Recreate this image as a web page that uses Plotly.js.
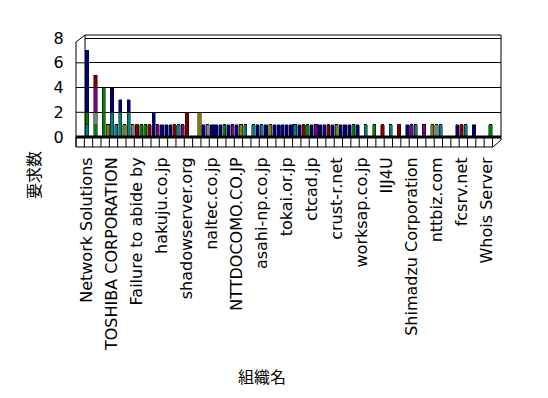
<!DOCTYPE html>
<html><head><meta charset="utf-8">
<script src="https://cdn.plot.ly/plotly-3.0.1.min.js"></script>
<style>html,body{margin:0;padding:0;background:#fff}#c{width:548px;height:398px}</style>
</head><body><div id="c"></div>
<script>
// category index positions that carry a tick label (every 6th organisation)
const labelIndex = [0,6,12,18,24,30,36,42,48,54,60,66,72,78,84,90,96];
const tickLabels = ["Network Solutions","TOSHIBA CORPORATION","Failure to abide by","hakuju.co.jp","shadowserver.org","naltec.co.jp","NTTDOCOMO.CO.JP","asahi-np.co.jp","tokai.or.jp","ctcad.jp","crust-r.net","worksap.co.jp","IIJ4U","Shimadzu Corporation","nttbiz.com","fcsrv.net","Whois Server"];
const seriesNames = ["系列1","系列2","系列3","系列4","系列5","系列6","系列7"];
const seriesColors = ["#008080","#008000","#808000","#808080","#800080","#800000","#000080"];
// values per series, one per organisation (100 organisations)
const teal = [1,0,0,0,0,0,2,1,2,0, 2,0,0,0,0,0,0,0,0,0, 0,0,1,0,0,0,0,0,0,0, 0,0,0,0,0,0,0,0,1,0,
              1,0,1,0,0,0,0,0,0,0, 1,0,0,0,0,0,0,0,0,0, 0,0,0,0,0,0,0,1,0,0, 0,0,0,1,0,0,0,0,0,1,
              0,0,0,0,0,1,0,0,0,0, 0,1,0,0,0,0,0,0,0,0];
const green = [1,0,1,0,4,0,0,0,0,0, 0,0,0,1,1,0,0,0,0,0, 0,0,0,0,0,0,0,0,0,0, 0,0,0,1,0,0,0,0,0,0,
               0,0,0,0,0,0,0,0,0,0, 0,0,0,1,0,0,0,0,0,0, 0,0,0,0,1,0,0,0,0,1, 0,0,0,0,0,0,0,0,0,0,
               0,0,0,0,0,0,0,0,0,0, 0,0,0,0,0,0,0,1,0,0];
const olive = [0,0,0,0,0,1,0,0,0,1, 0,0,0,0,0,0,0,0,0,0, 0,0,0,0,0,0,0,2,0,0, 0,0,0,0,0,0,0,1,0,0,
               0,0,0,0,1,0,0,0,0,0, 0,0,0,0,0,0,0,0,0,0, 1,0,0,0,0,0,0,0,0,0, 0,0,0,0,0,0,0,0,0,0,
               0,0,0,1,0,0,0,0,0,0, 0,0,0,0,0,0,0,0,0,0];
const gray = [0,0,1,0,0,0,0,0,0,0, 0,1,0,0,0,0,0,0,0,0, 0,0,0,0,0,0,0,0,0,1, 0,0,0,0,0,0,0,0,0,0,
              0,0,0,0,0,0,0,0,0,0, 0,0,0,0,0,0,0,0,0,0, 0,0,0,0,0,0,0,0,0,0, 0,0,0,0,0,0,0,0,0,0,
              0,0,0,0,1,0,0,0,0,0, 0,0,0,0,0,0,0,0,0,0];
const purple = [0,0,2,0,0,0,0,0,0,0, 0,0,0,0,0,0,0,1,0,0, 0,0,0,1,0,0,0,0,0,0, 0,0,0,0,0,1,0,0,0,0,
                0,0,0,0,0,0,0,0,0,0, 0,0,0,0,0,1,0,0,0,0, 0,0,0,0,0,0,0,0,0,0, 0,0,0,0,0,0,0,0,1,0,
                0,1,0,0,0,0,0,0,0,0, 0,0,0,0,0,0,0,0,0,0];
const maroon = [0,0,1,0,0,0,0,0,0,0, 0,0,1,0,0,1,0,0,0,0, 0,1,0,0,2,0,0,0,0,0, 0,0,0,0,0,0,0,0,0,0,
                0,0,0,0,0,0,0,0,0,0, 0,0,1,0,0,0,0,0,1,0, 0,0,0,0,0,0,0,0,0,0, 0,1,0,0,0,1,0,0,0,0,
                0,0,0,0,0,0,0,0,0,0, 1,0,0,0,0,0,0,0,0,0];
const navy = [5,0,0,0,0,0,2,0,1,0, 1,0,0,0,0,0,2,0,1,1, 1,0,0,0,0,0,0,0,1,0, 1,1,1,0,1,0,1,0,0,0,
              0,1,0,1,0,1,1,1,1,1, 0,1,0,0,1,0,1,1,0,1, 0,1,1,1,0,1,0,0,0,0, 0,0,0,0,0,0,0,1,0,0,
              0,0,0,0,0,0,0,0,0,1, 0,0,0,1,0,0,0,0,0,0];
const seriesValues = [teal,green,olive,gray,purple,maroon,navy];

const N = teal.length;
const xs = Array.from({length:N},(_,i)=>i);
const traces = seriesValues.map((v,i)=>({
  type:'bar', x:xs, y:v, name:seriesNames[i],
  marker:{color:seriesColors[i], line:{color:'#000000', width:0.5}},
  width:0.78, hoverinfo:'skip'
}));

// plot-area pixel geometry
const L=85, R=501, T=35, B=137, W=548, H=398;
const yMax=8.25;
const px=(x)=>(x-L)/(R-L), py=(y)=>(B-y)/(B-T);
const shapes=[];
const ln=(x0,y0,x1,y1,w)=>shapes.push({type:'line',xref:'paper',yref:'paper',x0:px(x0),y0:py(y0),x1:px(x1),y1:py(y1),line:{color:'#000',width:w||1}});
// 3-D frame outline
ln(76,42,76,147); ln(76,42,85,35); ln(85,35,501,35); ln(501,35,501,140); ln(501,140,493,147);
ln(85,35,85,137); ln(76,147,493,147); ln(76,137,501,137,3);
for(let n=0;n<=50;n++){const x=76+n*8.33; ln(x,137,x,147);}
[2,4,6].forEach(v=>{const y=B-v*(B-T)/yMax; ln(76,y,85,y);});

const layout={
  width:W,height:H,
  margin:{l:L,r:W-R,t:T,b:H-B,pad:0},
  paper_bgcolor:'#fff',plot_bgcolor:'rgba(0,0,0,0)',
  barmode:'stack',showlegend:false,
  font:{family:'DejaVu Sans',color:'#000'},
  xaxis:{range:[-0.5,99.5],tickmode:'array',tickvals:labelIndex,ticktext:tickLabels,
    tickangle:-90,ticks:'outside',ticklen:13,tickcolor:'rgba(0,0,0,0)',
    tickfont:{size:16,family:'DejaVu Sans'},showgrid:false,zeroline:false,showline:false,fixedrange:true},
  yaxis:{range:[0,yMax],tickvals:[0,2,4,6,8],ticks:'outside',ticklen:17,tickcolor:'rgba(0,0,0,0)',
    tickfont:{size:16,family:'DejaVu Sans'},showgrid:true,gridcolor:'#000',gridwidth:1,zeroline:false,showline:false,fixedrange:true},
  shapes:shapes,
  annotations:[
    {text:'要求数',xref:'paper',yref:'paper',x:px(33),y:py(175),xanchor:'center',yanchor:'middle',textangle:-90,showarrow:false,font:{size:16,family:'Noto Sans CJK JP'}},
    {text:'組織名',xref:'paper',yref:'paper',x:px(262),y:py(376),xanchor:'center',yanchor:'middle',showarrow:false,font:{size:16,family:'Noto Sans CJK JP'}}
  ]
};
Plotly.newPlot('c',traces,layout,{staticPlot:true,displayModeBar:false});
</script></body></html>
